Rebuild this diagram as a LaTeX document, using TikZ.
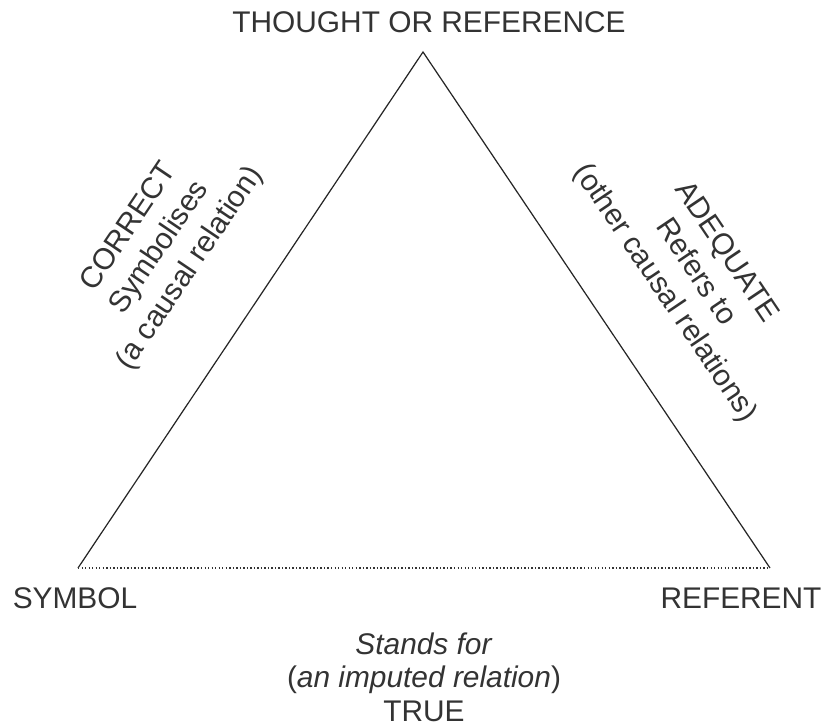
\documentclass[tikz,border=0pt]{standalone}
\usepackage{fontspec}
\setmainfont{Liberation Sans}
\usetikzlibrary{positioning}
\definecolor{inkgray}{HTML}{333333}
\tikzset{
	vertexlabel/.style={text=inkgray, inner sep=0pt, font=\fontsize{17}{20}\selectfont},
	sidelabel/.style={text=inkgray, inner sep=0pt, align=center, font=\fontsize{17}{21}\selectfont},
	sideline/.style={draw=black!85, line width=0.7pt},
	imputed/.style={draw=black!80, line width=0.6pt, dash pattern=on 0.8pt off 1.2pt},
}
\begin{document}
\begin{tikzpicture}[x=0.02cm, y=-0.02cm]
\useasboundingbox (0,0) rectangle (825,726);
\coordinate (thought) at (423,52);
\coordinate (symbol) at (78,568);
\coordinate (referent) at (770,568);
\draw[sideline] (symbol) -- (thought) -- (referent);
\draw[imputed] (symbol) -- (referent);
\node[vertexlabel] (thoughtlbl) at (429,22) {THOUGHT OR REFERENCE};
\node[vertexlabel] (symbollbl) at (75,598) {SYMBOL};
\node[vertexlabel] (referentlbl) at (741,598) {REFERENT};
\node[sidelabel, rotate=56] (correct) at (160,248) {CORRECT\\Symbolises\\(a causal relation)};
\node[sidelabel, rotate=-56] (adequate) at (695,273) {ADEQUATE\\Refers to\\(other causal relations)};
\node[sidelabel, font=\fontsize{17}{19}\selectfont] (standsfor) at (424,677) {\textit{Stands for}\\(\textit{an imputed relation})\\TRUE};
\end{tikzpicture}
\end{document}
